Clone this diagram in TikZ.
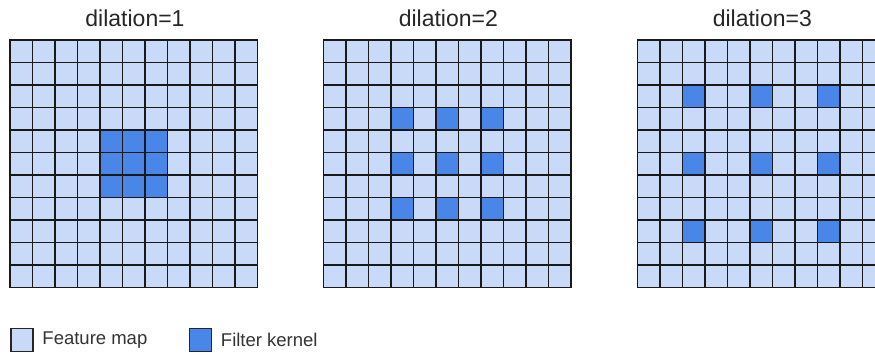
\documentclass[tikz,border=0pt]{standalone}
\usepackage{fontspec}
\setmainfont{Liberation Sans}
\usetikzlibrary{positioning}
\definecolor{featcol}{HTML}{C9DAF8}
\definecolor{kerncol}{HTML}{4A86E8}
\begin{document}
\begin{tikzpicture}[x=1pt,y=-1pt,
	gridline/.style={draw=black!90,line width=1.5pt,line cap=rect},
	title/.style={font=\fontsize{23}{26}\selectfont,text=black!85,anchor=base},
	legbox/.style={draw=black!85,line width=1.5pt,minimum width=22pt,minimum height=23pt,inner sep=0pt},
	legtext/.style={font=\fontsize{18.5}{22}\selectfont,text=black!80,inner sep=0pt}]
	\useasboundingbox (0,0) rectangle (875,354);
	\clip (0,0) rectangle (875,354);
	% Vẽ ba lưới 11x11
	\foreach \d/\x in {1/10,2/323.3,3/637.3}{
		\fill[featcol] (\x,40) rectangle ++(247.5,247.5);
		% Ô của bộ lọc
		\foreach \k in {-1,0,1}{
			\foreach \l in {-1,0,1}{
				\fill[kerncol] ({\x+(5+\d*\k)*22.5},{40+(5+\d*\l)*22.5}) rectangle ++(22.5,22.5);
			}
		}
		\foreach \i in {0,...,11}{
			\draw[gridline] ({\x+\i*22.5},40) -- ({\x+\i*22.5},287.5);
			\draw[gridline] (\x,{40+\i*22.5}) -- ({\x+247.5},{40+\i*22.5});
		}
		\node[title] (t\d) at ({\x+125},26) {dilation=\d};
	}
	% Chú thích
	\node[legbox,fill=featcol] (fbox) at (22,340) {};
	\node[legtext,right=8.5pt of fbox] (ftext) {Feature map};
	\node[legbox,fill=kerncol] (kbox) at (200.5,340) {};
	\node[legtext,right=8.5pt of kbox] (ktext) {Filter kernel};
\end{tikzpicture}
\end{document}
